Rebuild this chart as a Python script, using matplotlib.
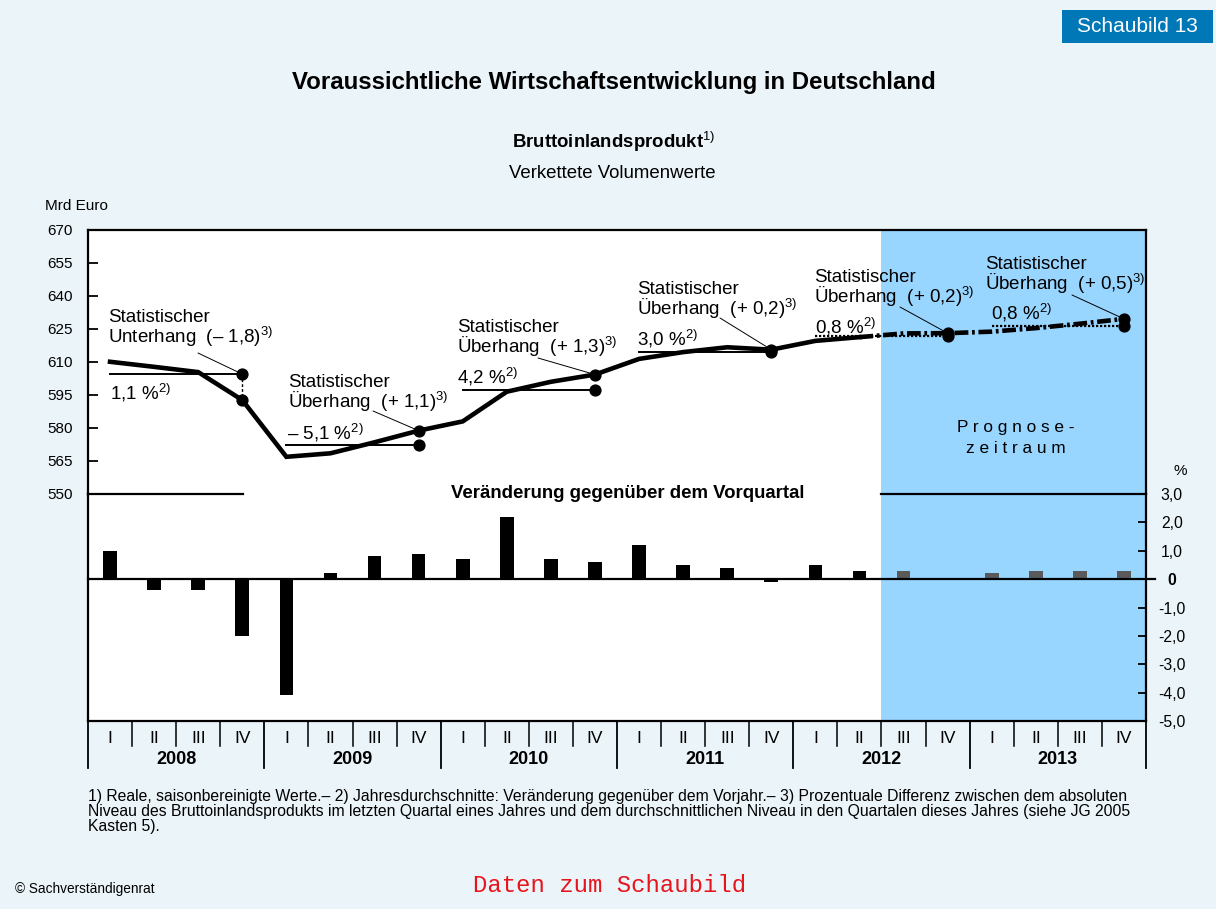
import matplotlib
matplotlib.use('Agg')
import matplotlib.pyplot as plt
import matplotlib.transforms as mtransforms
from matplotlib.patches import Rectangle
from matplotlib import font_manager

# ---------------- data ----------------
years = ['2008', '2009', '2010', '2011', '2012', '2013']
quarters = ['I', 'II', 'III', 'IV']
gdp_level = [610.1, 607.8, 605.4, 592.7,
             566.9, 568.5, 573.5, 578.8,
             583.0, 596.5, 601.0, 604.3,
             611.4, 614.5, 616.7, 615.6,
             619.6, 621.3, 623.0, 623.1,
             623.8, 625.4, 627.4, 629.6]
annual_avg = [604.5, 572.3, 597.3, 614.4, 621.8, 626.2]
qoq_change = [1.0, -0.4, -0.4, -2.0,
              -4.1, 0.2, 0.8, 0.9,
              0.7, 2.2, 0.7, 0.6,
              1.2, 0.5, 0.4, -0.1,
              0.5, 0.3, 0.3, 0.0,
              0.2, 0.3, 0.3, 0.3]
growth_labels = ['1,1 %', '– 5,1 %', '4,2 %', '3,0 %', '0,8 %', '0,8 %']
overhang_labels = ['Unterhang  (– 1,8)', 'Überhang  (+ 1,1)', 'Überhang  (+ 1,3)',
                   'Überhang  (+ 0,2)', 'Überhang  (+ 0,2)', 'Überhang  (+ 0,5)']
n_observed = 18          # quarters 2008 I .. 2012 II are observed
forecast_years = 2       # 2012 and 2013 averages are (partly) forecast
left_ticks = [550, 565, 580, 595, 610, 625, 640, 655, 670]
right_ticks = [-5, -4, -3, -2, -1, 0, 1, 2, 3]
right_labels = ['-5,0', '-4,0', '-3,0', '-2,0', '-1,0', '0', '1,0', '2,0', '3,0']

# ---------------- style ----------------
plt.rcParams['font.family'] = 'Liberation Sans'
plt.rcParams['mathtext.fontset'] = 'custom'
plt.rcParams['mathtext.rm'] = 'Liberation Sans'
plt.rcParams['mathtext.it'] = 'Liberation Sans:italic'
plt.rcParams['mathtext.bf'] = 'Liberation Sans:bold'

names = {f.name for f in font_manager.fontManager.ttflist}
FOOT = 'Liberation Sans Narrow' if 'Liberation Sans Narrow' in names else 'Liberation Sans'
FOOT_SIZE = 12.5 if FOOT == 'Liberation Sans Narrow' else 11.3

BG = '#EBF4F8'
BLUE = '#99D6FF'
BOX = '#0077B6'
GREY = '#5A5A5A'

W, H = 1216, 909
fig = plt.figure(figsize=(W / 100, H / 100), dpi=100, facecolor=BG)


def T(x, y, s, **kw):
    return fig.text(x / W, 1 - y / H, s, **kw)


L, R, TOP, MID, BOT = 88, 1146, 230, 494, 721
ax_top = fig.add_axes([L / W, 1 - MID / H, (R - L) / W, (MID - TOP) / H])
ax_bot = fig.add_axes([L / W, 1 - BOT / H, (R - L) / W, (BOT - MID) / H])

nq = len(gdp_level)
xs = [i + 0.5 for i in range(nq)]

for ax in (ax_top, ax_bot):
    ax.set_xlim(0, nq)
    ax.set_facecolor('white')
    ax.axvspan(n_observed, nq, color=BLUE, lw=0, zorder=0)
    for s in ax.spines.values():
        s.set_linewidth(1.6)
        s.set_color('black')

# ---- top panel: levels ----
ax_top.set_ylim(550, 670)
ax_top.spines['bottom'].set_visible(False)
ax_top.set_xticks([])
ax_top.set_yticks(left_ticks)
ax_top.set_yticklabels([str(v) for v in left_ticks])
ax_top.tick_params(axis='y', direction='in', length=7, width=1.3, pad=11, labelsize=11)

ax_top.plot(xs[:n_observed], gdp_level[:n_observed], color='black', lw=3.3,
            solid_joinstyle='miter', zorder=4)
ax_top.plot(xs[n_observed - 1:], gdp_level[n_observed - 1:], color='black', lw=3.3,
            ls=(0, (3, 0.8, 0.6, 0.8)), zorder=4)

ann_pos = [(108, 322), (288, 387), (457, 332), (637, 294), (814, 282), (985, 269)]
growth_pos = [(110, 399), (287, 439), (457, 384), (637, 346), (815, 333), (991, 319)]
leader_start = [(198, 353), (373, 411), (538, 358), (720, 318), (900, 307), (1072, 295)]
ANN = 13.5

for k, yr in enumerate(years):
    q4 = 4 * k + 3
    x0, x1 = xs[4 * k], xs[q4]
    fc = k >= len(years) - forecast_years
    ax_top.plot([x0, x1], [annual_avg[k], annual_avg[k]], color='black',
                lw=1.6 if fc else 1.4, ls=(0, (1, 0.8)) if fc else '-', zorder=3)
    ax_top.plot([x1, x1], [annual_avg[k], gdp_level[q4]], 'o', ms=7.8,
                color='black', zorder=6, ls='none')
    if gdp_level[q4] < annual_avg[k]:
        ax_top.plot([x1, x1], [annual_avg[k], gdp_level[q4]], color='black',
                    lw=1.0, ls=(0, (2, 1.5)), zorder=5)
    tx, ty = ann_pos[k]
    T(tx, ty, 'Statistischer', fontsize=ANN, va='baseline', ha='left')
    T(tx, ty + 21, overhang_labels[k] + r'$^{\mathrm{3)}}$', fontsize=ANN,
      va='baseline', ha='left')
    gx, gy = growth_pos[k]
    T(gx, gy, growth_labels[k] + r'$^{\mathrm{2)}}$', fontsize=ANN,
      va='baseline', ha='left')
    sx, sy = leader_start[k]
    ax_top.annotate('', xy=(x1, max(annual_avg[k], gdp_level[q4])), xycoords='data',
                    xytext=(sx, H - sy), textcoords='figure pixels',
                    arrowprops=dict(arrowstyle='-', color='black', lw=0.7,
                                    shrinkA=0, shrinkB=0), zorder=5)

# ---- bottom panel: changes ----
ax_bot.set_ylim(-5, 3)
ax_bot.spines['top'].set_visible(False)
bar_colors = ['black' if i < n_observed else GREY for i in range(nq)]
ax_bot.bar(xs, qoq_change, width=0.31, color=bar_colors, zorder=3)
ax_bot.plot([0, nq + 0.2], [0, 0], color='black', lw=1.6, clip_on=False, zorder=4)
# divider at top of bottom panel
ax_bot.plot([0, 3.52], [3, 3], color='black', lw=1.6, clip_on=False, zorder=4)
ax_bot.plot([n_observed, nq], [3, 3], color='black', lw=1.6, clip_on=False, zorder=4)

ax_bot.yaxis.tick_right()
ax_bot.set_yticks(right_ticks)
ax_bot.set_yticklabels(right_labels)
ax_bot.tick_params(axis='y', direction='in', length=6, width=1.3, pad=18.5, labelsize=11.3)
for lab in ax_bot.get_yticklabels():
    lab.set_horizontalalignment('center')
    if lab.get_text() == '0':
        lab.set_fontweight('bold')

ax_bot.set_xticks(xs)
ax_bot.set_xticklabels(quarters * len(years))
ax_bot.tick_params(axis='x', length=0, pad=7, labelsize=12.5)

blend = mtransforms.blended_transform_factory(ax_bot.transData, ax_bot.transAxes)
for b in range(nq + 1):
    if b % 4 == 0:
        ax_bot.plot([b, b], [0, -47 / (BOT - MID)], transform=blend, color='black',
                    lw=1.3, clip_on=False)
    else:
        ax_bot.plot([b, b], [0, -25 / (BOT - MID)], transform=blend, color='black',
                    lw=1.1, clip_on=False)
for k, yr in enumerate(years):
    ax_bot.text(4 * k + 2, -39 / (BOT - MID), yr, transform=blend, ha='center',
                va='center', fontsize=13, fontweight='bold')

T(628, 494, 'Veränderung gegenüber dem Vorquartal',
  ha='center', va='center', fontsize=13.4, fontweight='bold', zorder=5)

# ---- texts ----
T(1016, 432, 'P r o g n o s e -', fontsize=12.4, ha='center', va='baseline')
T(1016, 453, 'z e i t r a u m', fontsize=12.4, ha='center', va='baseline')

T(614, 89, 'Voraussichtliche Wirtschaftsentwicklung in Deutschland', fontsize=17.3,
  fontweight='bold', ha='center', va='baseline')
T(614, 148, r'Bruttoinlandsprodukt$^{\mathrm{1)}}$', fontsize=13.4, fontweight='bold',
  ha='center', va='baseline')
T(612, 178, 'Verkettete Volumenwerte', fontsize=13.4, ha='center', va='baseline')
T(45, 210, 'Mrd Euro', fontsize=11, ha='left', va='baseline')
T(1180, 475, '%', fontsize=11, ha='center', va='baseline')

fig.add_artist(Rectangle((1062 / W, 1 - 43 / H), 151 / W, 33 / H,
                         transform=fig.transFigure, facecolor=BOX, edgecolor='none'))
T(1137, 27, 'Schaubild 13', fontsize=15, color='white', ha='center', va='center')

foot = ['1) Reale, saisonbereinigte Werte.– 2) Jahresdurchschnitte: Veränderung gegenüber dem Vorjahr.– 3) Prozentuale Differenz zwischen dem absoluten',
        'Niveau des Bruttoinlandsprodukts im letzten Quartal eines Jahres und dem durchschnittlichen Niveau in den Quartalen dieses Jahres (siehe JG 2005',
        'Kasten 5).']
for i, line in enumerate(foot):
    T(88, 797 + 14.5 * i, line, fontsize=FOOT_SIZE, family=FOOT, ha='left', va='center')
T(15, 889, '© Sachverständigenrat', fontsize=9.8, family=FOOT, ha='left', va='center')
T(610, 886, 'Daten zum Schaubild', fontsize=17.2, family='Liberation Mono', color='#E8141C',
  ha='center', va='center')

fig.savefig('out.png', dpi=100, facecolor=BG)
